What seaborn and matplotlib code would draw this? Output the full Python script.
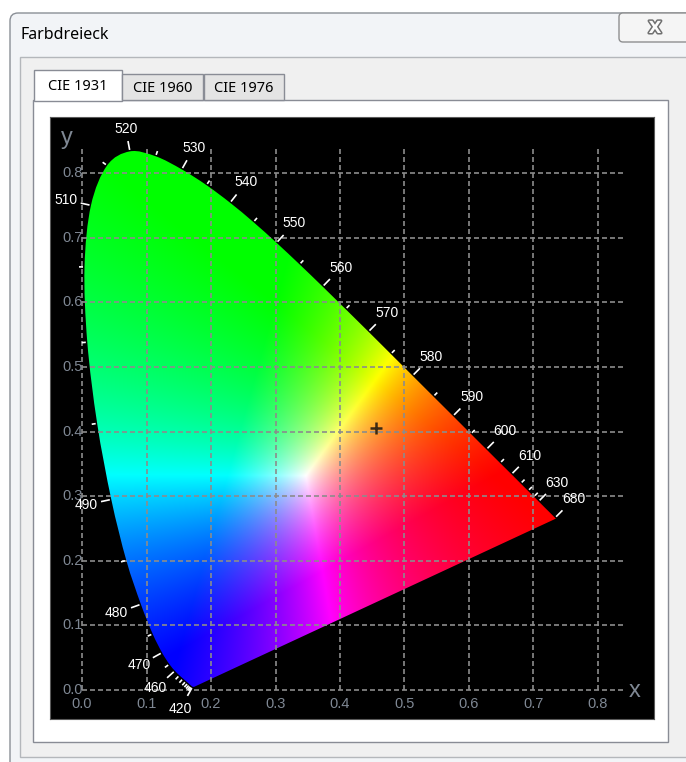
import numpy as np
import matplotlib
matplotlib.use("Agg")
import matplotlib.pyplot as plt
from matplotlib.patches import Rectangle, FancyBboxPatch, PathPatch
from matplotlib.path import Path
import matplotlib.patheffects as pe
import seaborn as sns

# ---------------- data ----------------
wavelengths = [380, 385, 390, 395, 400, 405, 410, 415, 420, 425, 430, 435, 440, 445,
               450, 455, 460, 465, 470, 475, 480, 485, 490, 495, 500, 505, 510, 515,
               520, 525, 530, 535, 540, 545, 550, 555, 560, 565, 570, 575, 580, 585,
               590, 595, 600, 605, 610, 615, 620, 625, 630, 635, 640, 645, 650, 655,
               660, 665, 670, 675, 680, 685, 690, 695, 700]
locus_x = [0.1741, 0.1740, 0.1738, 0.1736, 0.1733, 0.1730, 0.1726, 0.1721, 0.1714, 0.1703,
           0.1689, 0.1669, 0.1644, 0.1611, 0.1566, 0.1510, 0.1440, 0.1355, 0.1241, 0.1096,
           0.0913, 0.0687, 0.0454, 0.0235, 0.0082, 0.0039, 0.0139, 0.0389, 0.0743, 0.1142,
           0.1547, 0.1929, 0.2296, 0.2658, 0.3016, 0.3373, 0.3731, 0.4087, 0.4441, 0.4788,
           0.5125, 0.5448, 0.5752, 0.6029, 0.6270, 0.6482, 0.6658, 0.6801, 0.6915, 0.7006,
           0.7079, 0.7140, 0.7190, 0.7230, 0.7260, 0.7283, 0.7300, 0.7311, 0.7320, 0.7327,
           0.7334, 0.7340, 0.7344, 0.7346, 0.7347]
locus_y = [0.0050, 0.0050, 0.0049, 0.0049, 0.0048, 0.0048, 0.0048, 0.0048, 0.0051, 0.0058,
           0.0069, 0.0086, 0.0109, 0.0138, 0.0177, 0.0227, 0.0297, 0.0399, 0.0578, 0.0868,
           0.1327, 0.2007, 0.2950, 0.4127, 0.5384, 0.6548, 0.7502, 0.8120, 0.8338, 0.8262,
           0.8059, 0.7816, 0.7543, 0.7243, 0.6923, 0.6589, 0.6245, 0.5896, 0.5547, 0.5202,
           0.4866, 0.4544, 0.4242, 0.3965, 0.3725, 0.3514, 0.3340, 0.3197, 0.3083, 0.2993,
           0.2920, 0.2859, 0.2809, 0.2770, 0.2740, 0.2717, 0.2700, 0.2689, 0.2680, 0.2673,
           0.2666, 0.2660, 0.2656, 0.2654, 0.2653]

tick_wavelengths = [420, 425, 430, 435, 440, 445, 450, 455, 460, 465, 470, 475, 480, 485,
                    490, 495, 500, 505, 510, 515, 520, 525, 530, 535, 540, 545, 550, 555,
                    560, 565, 570, 575, 580, 585, 590, 595, 600, 605, 610, 615, 620, 625,
                    630, 680]
label_wavelengths = [420, 460, 470, 480, 490, 510, 520, 530, 540, 550, 560, 570, 580,
                     590, 600, 610, 630, 680]

grid_values = [0.0, 0.1, 0.2, 0.3, 0.4, 0.5, 0.6, 0.7, 0.8]
grid_labels = ["0.0", "0.1", "0.2", "0.3", "0.4", "0.5", "0.6", "0.7", "0.8"]
grid_extent = 0.84

marker_x = [0.456]
marker_y = [0.406]

# primaries and white used for the colour fill
primaries_x = [0.64, 0.30, 0.15]
primaries_y = [0.33, 0.60, 0.06]
white_xy = [0.347, 0.331]

tab_names = ["CIE 1931", "CIE 1960", "CIE 1976"]
window_title = "Farbdreieck"

# ---------------- figure ----------------
W, H = 686, 762
fig = plt.figure(figsize=(W / 100, H / 100), dpi=100)
fig.patch.set_facecolor("white")

bg = fig.add_axes([0, 0, 1, 1])
bg.set_xlim(0, W)
bg.set_ylim(H, 0)
bg.axis("off")

UI = ["Noto Sans", "DejaVu Sans"]
NARROW = ["Liberation Sans", "DejaVu Sans"]

# window frame
bg.add_patch(FancyBboxPatch((10, 13), 720, 800, boxstyle="round,pad=0,rounding_size=8",
                            facecolor="#f2f4f7", edgecolor="#8a8f96", linewidth=1))
# client area
bg.add_patch(Rectangle((20, 57), 700, 700, facecolor="#f0f0f0", edgecolor="#b4b7bb", linewidth=1))
bg.text(21, 35, window_title, fontsize=11.5, family=UI, va="center", ha="left", color="#000000")

# close button
bg.add_patch(FancyBboxPatch((619, 13), 90, 29, boxstyle="round,pad=0,rounding_size=4",
                            facecolor="#f5f5f5", edgecolor="#8e8f90", linewidth=1))
bg.text(655, 28, "X", fontsize=12, fontweight="bold", family=["DejaVu Sans"], ha="center",
        va="center", color="#fbfbfb",
        path_effects=[pe.Stroke(linewidth=2.2, foreground="#707070"), pe.Normal()])

# tab panel
bg.add_patch(Rectangle((33, 100), 635, 642, facecolor="white", edgecolor="#898c95", linewidth=1))
tab_boxes = [(34, 70, 88, 30), (122, 74, 81, 26), (204, 74, 80, 26)]
for i, (name, (tx, ty, tw, th)) in enumerate(zip(tab_names, tab_boxes)):
    fc = "white" if i == 0 else "#e4e4e4"
    bg.add_patch(Rectangle((tx, ty), tw, th + (1 if i == 0 else 0), facecolor=fc,
                           edgecolor="#898c95", linewidth=1, zorder=3))
    bg.text(tx + tw / 2, ty + th / 2 + 1, name, fontsize=10.5, family=UI, ha="center",
            va="center", color="#000000", zorder=4)

# ---------------- chart axes ----------------
PX = 645.0  # pixels per data unit
ax = fig.add_axes([50 / W, 43 / H, 604 / W, 602 / H])
ax.set_facecolor("black")
ax.set_xlim(-32 / PX, 572 / PX)
ax.set_ylim(-29 / 646.0, 573 / 646.0)
ax.set_xticks([])
ax.set_yticks([])
for s in ax.spines.values():
    s.set_color("#5a5a5a")
    s.set_linewidth(0.8)

lx = np.array(locus_x)
ly = np.array(locus_y)

# smooth closed outline through the locus points (Catmull-Rom as cubic Beziers)
pts = np.column_stack([lx, ly])
n_pts = len(pts)
verts = [pts[0]]
codes = [Path.MOVETO]
for k in range(n_pts - 1):
    p0 = pts[max(k - 1, 0)]
    p1 = pts[k]
    p2 = pts[k + 1]
    p3 = pts[min(k + 2, n_pts - 1)]
    c1 = p1 + (p2 - p0) / 6.0
    c2 = p2 - (p3 - p1) / 6.0
    verts += [c1, c2, p2]
    codes += [Path.CURVE4] * 3
verts += [pts[0], pts[0]]
codes += [Path.LINETO, Path.CLOSEPOLY]
outline = PathPatch(Path(np.array(verts), codes), transform=ax.transData)

# colour field (linear RGB from primaries, clipped and max-normalised)
P = np.array([[x / y for x, y in zip(primaries_x, primaries_y)],
              [1.0, 1.0, 1.0],
              [(1 - x - y) / y for x, y in zip(primaries_x, primaries_y)]])
wx, wy = white_xy
Wxyz = np.array([wx / wy, 1.0, (1 - wx - wy) / wy])
S = np.linalg.solve(P, Wxyz)
M = np.linalg.inv(P * S)

xs = np.linspace(0.0, 0.75, 751)
ys = np.linspace(0.001, 0.85, 850)
X, Y = np.meshgrid(xs, ys)
XYZ = np.stack([X / Y, np.ones_like(X), (1 - X - Y) / Y], axis=-1)
rgb = XYZ @ M.T
rgb = np.clip(rgb, 0, None)
rgb = rgb / rgb.max(axis=-1, keepdims=True)
im = ax.imshow(rgb, extent=[0, 0.75, 0.001, 0.85], origin="lower", interpolation="bilinear",
               aspect="auto", zorder=1)
im.set_clip_path(outline)

# grid
dash = (0, (3.0, 1.8))
ax.vlines(grid_values, 0, grid_extent, colors="#8c8c8c", linestyles=dash, linewidth=1.2, zorder=3)
ax.hlines(grid_values, 0, grid_extent, colors="#8c8c8c", linestyles=dash, linewidth=1.2, zorder=3)

# axis labels
lab_col = "#7f8894"
for v, t in zip(grid_values, grid_labels):
    ax.text(v, -14 / 646.0, t, color=lab_col, fontsize=10.5, family=NARROW, ha="center",
            va="center", zorder=4)
    ax.text(0.001, v, t, color=lab_col, fontsize=10.5, family=NARROW, ha="right",
            va="center", zorder=4)
ax.text(-15 / PX, 552 / 646.0, "y", color=lab_col, fontsize=17, family=NARROW, ha="center",
        va="center", zorder=4)
ax.text(553 / PX, -1 / 646.0, "x", color=lab_col, fontsize=17, family=NARROW, ha="center",
        va="center", zorder=4)

# wavelength ticks & labels
for w in tick_wavelengths:
    i = wavelengths.index(w)
    t = np.array([lx[i + 1] - lx[i - 1], ly[i + 1] - ly[i - 1]])
    t = t / np.hypot(*t)
    nrm = np.array([-t[1], t[0]])
    labeled = w in label_wavelengths
    L = 9.0 if labeled else 4.0
    p0 = np.array([lx[i], ly[i]]) + nrm * 1.5 / PX
    p1 = p0 + nrm * L / PX
    ax.plot([p0[0], p1[0]], [p0[1], p1[1]], color="white", linewidth=1.2, zorder=4,
            solid_capstyle="butt")
    if labeled:
        d = 3 + abs(nrm[0]) * 11 + abs(nrm[1]) * 7
        c = p1 + nrm * d / PX
        ax.text(c[0], c[1], str(w), color="white", fontsize=10, family=NARROW,
                ha="center", va="center", zorder=5)

# reference point
sns.scatterplot(x=marker_x, y=marker_y, marker="+", s=70, color="#3b2a14", linewidth=1.8,
                ax=ax, legend=False, zorder=6)
ax.set_xlabel("")
ax.set_ylabel("")

fig.savefig("out.png", dpi=100)
